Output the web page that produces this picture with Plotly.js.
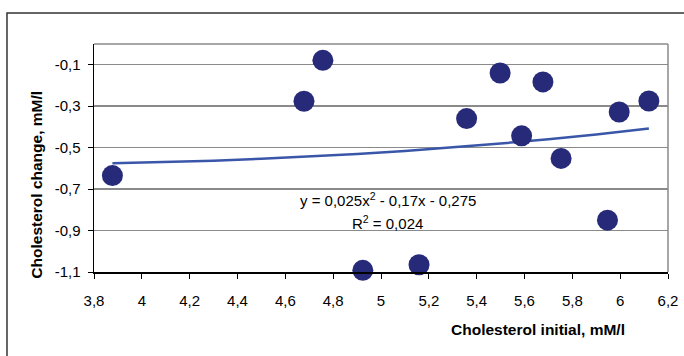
<!DOCTYPE html>
<html>
<head>
<meta charset="utf-8">
<script src="https://cdn.plot.ly/plotly-3.0.1.min.js"></script>
<style>
  html, body { margin: 0; padding: 0; background: #fff; }
  #chart { width: 684px; height: 356px; }
</style>
</head>
<body>
<div id="chart"></div>
<script>
// Measured data points
const initialChol = [3.877, 4.678, 4.757, 4.924, 5.159, 5.358, 5.498, 5.588, 5.677, 5.753, 5.947, 5.996, 6.12];
const cholChange  = [-0.635, -0.276, -0.079, -1.092, -1.065, -0.360, -0.140, -0.443, -0.183, -0.552, -0.850, -0.328, -0.275];

// Trend line
const trendX = [3.877, 4.1, 4.3, 4.5, 4.7, 4.9, 5.1, 5.3, 5.5, 5.7, 5.9, 6.12];
const trendY = [-0.575, -0.569, -0.563, -0.554, -0.543, -0.531, -0.516, -0.499, -0.480, -0.460, -0.437, -0.408];

// Tick labels
const xTickVals = [3.8, 4.0, 4.2, 4.4, 4.6, 4.8, 5.0, 5.2, 5.4, 5.6, 5.8, 6.0, 6.2];
const xTickText = ["3,8", "4", "4,2", "4,4", "4,6", "4,8", "5", "5,2", "5,4", "5,6", "5,8", "6", "6,2"];
const yTickVals = [-1.1, -0.9, -0.7, -0.5, -0.3, -0.1];
const yTickText = ["-1,1", "-0,9", "-0,7", "-0,5", "-0,3", "-0,1"];

// Texts
const xTitle = "Cholesterol initial, mM/l";
const yTitle = "Cholesterol change, mM/l";
const eqText = "y = 0,025x<sup>2</sup> - 0,17x - 0,275";
const r2Text = "R<sup>2</sup> = 0,024";

const FONT = "Liberation Sans, Arial, sans-serif";

const traces = [
  {
    x: trendX, y: trendY, type: "scatter", mode: "lines",
    line: { color: "#3a56a8", width: 2.5 },
    hoverinfo: "skip", showlegend: false
  },
  {
    x: initialChol, y: cholChange, type: "scatter", mode: "markers",
    marker: { color: "#262a78", size: 21, line: { width: 0 } },
    showlegend: false, cliponaxis: false
  }
];

const layout = {
  width: 684, height: 356,
  margin: { l: 94, r: 16, t: 44, b: 84 },
  paper_bgcolor: "#ffffff", plot_bgcolor: "#ffffff",
  font: { family: FONT, size: 15, color: "#000" },
  showlegend: false,
  xaxis: {
    range: [3.8, 6.2], tickvals: xTickVals, ticktext: xTickText,
    showgrid: false, zeroline: false,
    showline: true, linecolor: "#000", linewidth: 1.5,
    ticks: "outside", ticklen: 5, tickcolor: "#000", tickwidth: 1,
    ticklabelstandoff: 9,
    tickfont: { family: FONT, size: 15, color: "#000" }
  },
  yaxis: {
    range: [-1.1, 0], tickvals: yTickVals, ticktext: yTickText,
    showgrid: true, gridcolor: "#8a8a8a", gridwidth: 1.5,
    zeroline: false,
    showline: true, linecolor: "#000", linewidth: 1.5,
    ticks: "outside", ticklen: 5, tickcolor: "#000", tickwidth: 1,
    ticklabelstandoff: 4,
    tickfont: { family: FONT, size: 15, color: "#000" }
  },
  shapes: [
    { type: "line", xref: "paper", yref: "paper", x0: 0, x1: 1, y0: 1, y1: 1,
      line: { color: "#8a8a8a", width: 1.5 } },
    { type: "line", xref: "paper", yref: "paper", x0: 1, x1: 1, y0: 0, y1: 1,
      line: { color: "#8a8a8a", width: 1.5 } },
    { type: "rect", xref: "paper", yref: "paper",
      x0: -0.1516, x1: 1.05, y0: -0.40, y1: 1.136,
      line: { color: "#333333", width: 1.5 }, layer: "below" }
  ],
  annotations: [
    { text: "<b>" + yTitle + "</b>", xref: "paper", yref: "paper",
      x: -0.0993, y: 0.383, xanchor: "center", yanchor: "middle",
      textangle: -90, showarrow: false,
      font: { family: FONT, size: 15.5, color: "#000" } },
    { text: "<b>" + xTitle + "</b>", xref: "paper", yref: "paper",
      x: 0.7735, y: -0.254, xanchor: "center", yanchor: "middle",
      showarrow: false,
      font: { family: FONT, size: 15.5, color: "#000" } },
    { text: eqText, xref: "paper", yref: "paper",
      x: 0.5118, y: 0.318, xanchor: "center", yanchor: "middle",
      showarrow: false,
      font: { family: FONT, size: 15, color: "#000" } },
    { text: r2Text, xref: "paper", yref: "paper",
      x: 0.5118, y: 0.219, xanchor: "center", yanchor: "middle",
      showarrow: false,
      font: { family: FONT, size: 15, color: "#000" } }
  ]
};

Plotly.newPlot("chart", traces, layout, { staticPlot: true, displayModeBar: false });
</script>
</body>
</html>
